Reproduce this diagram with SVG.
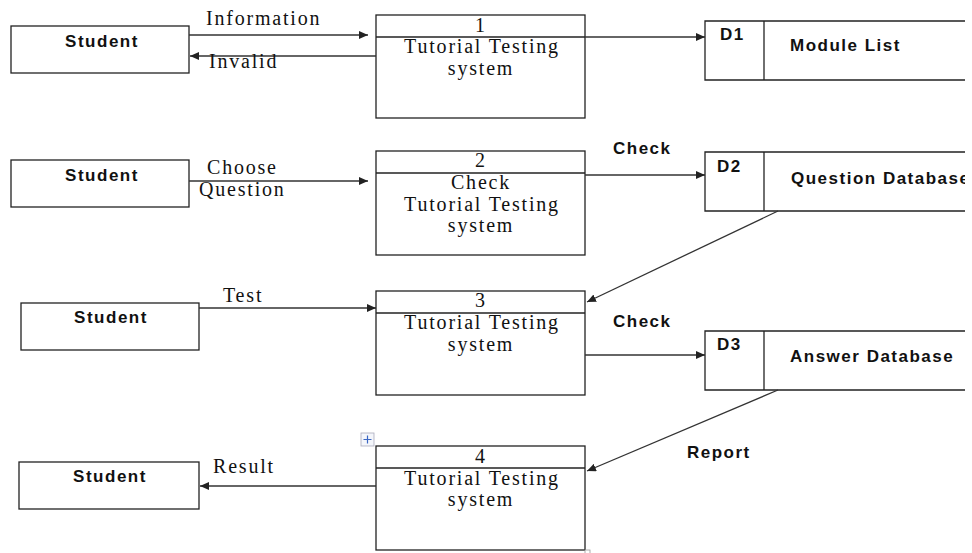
<svg xmlns="http://www.w3.org/2000/svg" width="972" height="553" viewBox="0 0 972 553">
<style>
.box{fill:#fff;stroke:#222;stroke-width:1.3}
.ln{fill:none;stroke:#333;stroke-width:1.3}
.ser{font-family:"Liberation Serif","Times New Roman",serif;font-size:20px;letter-spacing:1.8px;fill:#111}
.sb{font-family:"Liberation Sans",Arial,sans-serif;font-size:17px;font-weight:bold;letter-spacing:1.5px;fill:#111}
.c{text-anchor:middle}
</style>
<defs>
<marker id="ah" markerWidth="10" markerHeight="8" refX="9" refY="4" orient="auto" markerUnits="userSpaceOnUse">
<path d="M0,0 L9,4 L0,8 Z" fill="#222"/>
</marker>
<clipPath id="clipR"><rect x="0" y="0" width="965" height="553"/></clipPath>
</defs>

<g id="student1"><rect class="box" x="11" y="26" width="178" height="47"/><text class="sb c" x="102" y="47">Student</text></g>
<g id="process1"><rect class="box" x="376" y="15" width="209" height="103"/><line class="box" x1="376" y1="37" x2="585" y2="37"/>
<text class="ser c" x="481" y="32">1</text><text class="ser c" x="482" y="53">Tutorial Testing</text><text class="ser c" x="481" y="75">system</text></g>
<g id="d1"><path class="box" d="M965,21 H705 V80 H965"/><line class="box" x1="764" y1="21" x2="764" y2="80"/>
<text class="sb" x="720" y="40">D1</text><text class="sb" x="790" y="51">Module List</text></g>

<g id="student2"><rect class="box" x="11" y="160" width="178" height="47"/><text class="sb c" x="102" y="181">Student</text></g>
<g id="process2"><rect class="box" x="376" y="151" width="209" height="104"/><line class="box" x1="376" y1="173" x2="585" y2="173"/>
<text class="ser c" x="481" y="167">2</text><text class="ser c" x="481" y="189">Check</text><text class="ser c" x="482" y="211">Tutorial Testing</text><text class="ser c" x="481" y="232">system</text></g>
<g id="d2"><path class="box" d="M965,152 H705 V211 H965"/><line class="box" x1="764" y1="152" x2="764" y2="211"/>
<text class="sb" x="717" y="172">D2</text><text class="sb" x="791" y="184" clip-path="url(#clipR)">Question Database</text></g>

<g id="student3"><rect class="box" x="21" y="303" width="178" height="47"/><text class="sb c" x="111" y="323">Student</text></g>
<g id="process3"><rect class="box" x="376" y="291" width="209" height="104"/><line class="box" x1="376" y1="313" x2="585" y2="313"/>
<text class="ser c" x="481" y="307">3</text><text class="ser c" x="482" y="329">Tutorial Testing</text><text class="ser c" x="481" y="351">system</text></g>
<g id="d3"><path class="box" d="M965,331 H705 V390 H965"/><line class="box" x1="764" y1="331" x2="764" y2="390"/>
<text class="sb" x="717" y="350">D3</text><text class="sb" x="790" y="362">Answer Database</text></g>

<g id="student4"><rect class="box" x="19" y="462" width="180" height="47"/><text class="sb c" x="110" y="482">Student</text></g>
<g id="process4"><rect class="box" x="376" y="446" width="209" height="104"/><line class="box" x1="376" y1="468" x2="585" y2="468"/>
<text class="ser c" x="481" y="463">4</text><text class="ser c" x="482" y="485">Tutorial Testing</text><text class="ser c" x="481" y="506">system</text></g>

<g id="connectors">
<line class="ln" x1="189" y1="35" x2="368" y2="35" marker-end="url(#ah)"/>
<line class="ln" x1="376" y1="56" x2="190" y2="56" marker-end="url(#ah)"/>
<line class="ln" x1="585" y1="37" x2="705" y2="37" marker-end="url(#ah)"/>
<line class="ln" x1="189" y1="181" x2="368" y2="181" marker-end="url(#ah)"/>
<line class="ln" x1="585" y1="175" x2="705" y2="175" marker-end="url(#ah)"/>
<line class="ln" x1="778" y1="211" x2="587" y2="302" marker-end="url(#ah)"/>
<line class="ln" x1="199" y1="308" x2="376" y2="308" marker-end="url(#ah)"/>
<line class="ln" x1="585" y1="355" x2="705" y2="355" marker-end="url(#ah)"/>
<line class="ln" x1="778" y1="390" x2="587" y2="471" marker-end="url(#ah)"/>
<line class="ln" x1="376" y1="486" x2="200" y2="486" marker-end="url(#ah)"/>
<text class="ser" x="206" y="25">Information</text>
<text class="ser" x="209" y="68">Invalid</text>
<text class="ser" x="207" y="174">Choose</text>
<text class="ser" x="199" y="196">Question</text>
<text class="sb" x="613" y="154">Check</text>
<text class="ser" x="223" y="302">Test</text>
<text class="sb" x="613" y="327">Check</text>
<text class="sb" x="687" y="458">Report</text>
<text class="ser" x="213" y="473">Result</text>
</g>

<g id="artifacts">
<rect x="361" y="433" width="13" height="13" fill="#f4f6fb" stroke="#aab" stroke-width="0.8"/>
<path d="M367.5,435.5 V443.5 M363.5,439.5 H371.5" stroke="#3a66c4" stroke-width="1.2"/>
<rect x="585" y="550" width="5" height="5" fill="#fff" stroke="#999" stroke-width="0.8"/>
</g>
</svg>
